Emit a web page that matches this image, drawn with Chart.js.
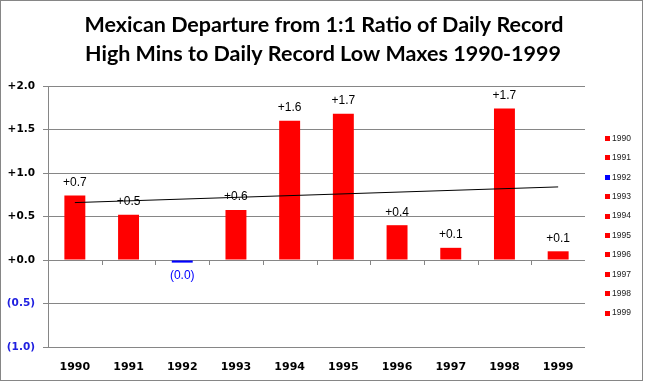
<!DOCTYPE html>
<html>
<head>
<meta charset="utf-8">
<script src="https://cdn.jsdelivr.net/npm/chart.js@4/dist/chart.umd.min.js"></script>
<style>
  body { margin: 0; background: #fff; }
  canvas { display: block; }
</style>
</head>
<body>
<canvas id="myChart" width="645" height="382"></canvas>
<script>
// chart data
const years = ["1990", "1991", "1992", "1993", "1994", "1995", "1996", "1997", "1998", "1999"];
const departure = [0.74, 0.52, -0.03, 0.575, 1.6, 1.68, 0.4, 0.14, 1.74, 0.1];
const barColors = ["#FF0000", "#FF0000", "#0000FF", "#FF0000", "#FF0000", "#FF0000", "#FF0000", "#FF0000", "#FF0000", "#FF0000"];
// linear trend line, read at its two ends
const trendLine = [0.66, null, null, null, null, null, null, null, null, 0.84];
const yTicks = [-1.0, -0.5, 0.0, 0.5, 1.0, 1.5, 2.0];
const titleLines = ["Mexican Departure from 1:1 Ratio of Daily Record", "High Mins to Daily Record Low Maxes 1990-1999"];

function fmt(v) {
  if (v < 0) return "(" + Math.abs(v).toFixed(1) + ")";
  return "+" + v.toFixed(1);
}

// background, title, legend, value labels, zero-line tick marks, border
const extras = {
  id: "extras",
  beforeDraw(chart) {
    const ctx = chart.ctx;
    ctx.save();
    ctx.fillStyle = "#fff";
    ctx.fillRect(0, 0, chart.width, chart.height);
    ctx.restore();
  },
  afterDatasetsDraw(chart) {
    const ctx = chart.ctx;
    const x = chart.scales.x;
    const y = chart.scales.y;
    const zero = y.getPixelForValue(0);

    // tick marks between categories on the zero line
    ctx.save();
    ctx.strokeStyle = "#868686";
    ctx.lineWidth = 1;
    for (let i = 1; i < years.length; i++) {
      const px = Math.round((x.getPixelForValue(i - 1) + x.getPixelForValue(i)) / 2) + 0.5;
      ctx.beginPath();
      ctx.moveTo(px, zero);
      ctx.lineTo(px, zero + 5);
      ctx.stroke();
    }
    ctx.restore();

    // value labels
    const meta = chart.getDatasetMeta(1);
    ctx.save();
    ctx.font = "12px 'Liberation Sans', sans-serif";
    ctx.textAlign = "center";
    ctx.textBaseline = "middle";
    meta.data.forEach((bar, i) => {
      const v = departure[i];
      if (v < 0) {
        ctx.fillStyle = "#0000FF";
        ctx.fillText(fmt(v), bar.x, bar.y + 13);
      } else {
        ctx.fillStyle = "#000";
        ctx.fillText(fmt(v), bar.x, bar.y - 13);
      }
    });
    ctx.restore();
  },
  afterDraw(chart) {
    const ctx = chart.ctx;
    ctx.save();
    // title
    ctx.font = "bold 21.5px Lato, sans-serif";
    ctx.fillStyle = "#000";
    ctx.textAlign = "center";
    ctx.textBaseline = "middle";
    ctx.fillText(titleLines[0], 324, 25);
    ctx.fillText(titleLines[1], 323, 54);
    // legend
    ctx.font = "8.5px 'Liberation Sans', sans-serif";
    ctx.textAlign = "left";
    for (let i = 0; i < years.length; i++) {
      const ly = 138 + i * 19.4;
      ctx.fillStyle = barColors[i];
      ctx.fillRect(605, Math.round(ly) - 2, 5, 5);
      ctx.fillStyle = "#222";
      ctx.fillText(years[i], 612, ly + 0.5);
    }
    // border
    ctx.strokeStyle = "#868686";
    ctx.lineWidth = 1;
    ctx.strokeRect(0.5, 0.5, 642, 380);
    ctx.restore();
  }
};

const data = {
  labels: years,
  datasets: [
    {
      type: "line",
      label: "Trend",
      data: trendLine,
      borderColor: "#000",
      borderWidth: 1,
      pointRadius: 0,
      spanGaps: true,
      order: 0,
    },
    {
      type: "bar",
      label: "Departure",
      data: departure,
      backgroundColor: barColors,
      borderWidth: 0,
      barPercentage: 0.39,
      categoryPercentage: 1,
      order: 1,
    },
  ],
};

const config = {
  data: data,
  plugins: [extras],
  options: {
    responsive: false,
    animation: false,
    layout: {
      padding: { left: 0, right: 60, top: 86, bottom: 0 },
    },
    plugins: {
      legend: { display: false },
      tooltip: { enabled: false },
      title: { display: false },
    },
    scales: {
      x: {
        offset: true,
        grid: { display: false },
        border: { display: false },
        ticks: {
          color: "#000",
          padding: 6,
          font: { family: "'DejaVu Sans', sans-serif", size: 11, weight: "bold" },
        },
        afterFit(scale) {
          scale.height = 35;
        },
      },
      y: {
        min: -1,
        max: 2,
        afterBuildTicks(scale) {
          scale.ticks = yTicks.map((v) => ({ value: v }));
        },
        grid: {
          color: "#868686",
          tickLength: 5,
        },
        border: { color: "#868686" },
        ticks: {
          padding: 8,
          callback: (v) => fmt(v),
          color: (c) => (c.tick && c.tick.value < 0 ? "#2020E0" : "#000"),
          font: { family: "'DejaVu Sans', sans-serif", size: 10.5, weight: "bold" },
        },
        afterFit(scale) {
          scale.width = 48;
        },
      },
    },
  },
};

const canvasChart = document.getElementById("myChart");
const myChart = new Chart(canvasChart, config);
</script>
</body>
</html>
